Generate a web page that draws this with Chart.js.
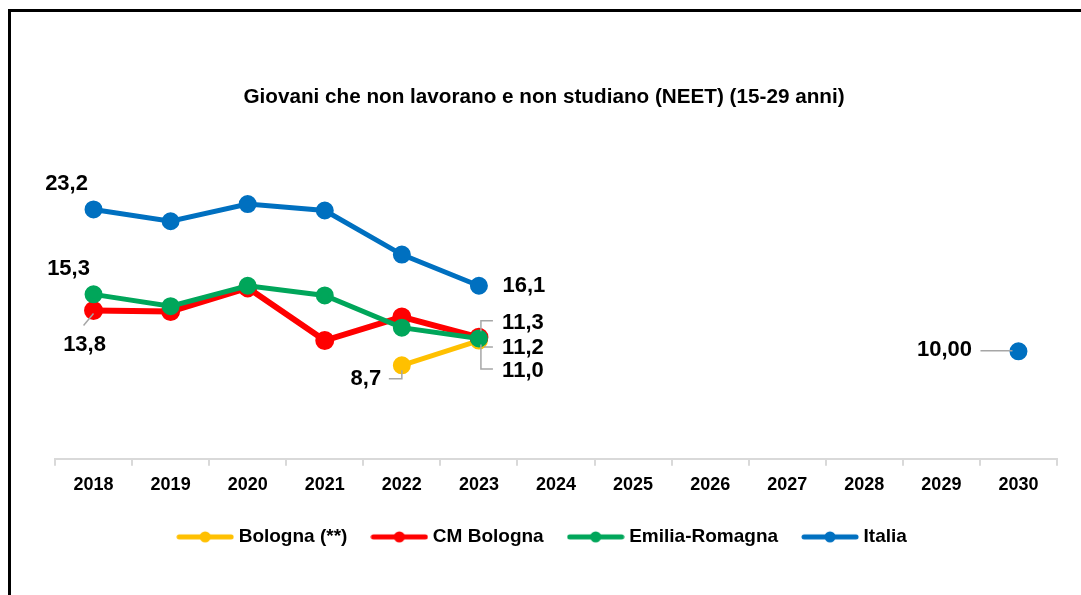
<!DOCTYPE html>
<html lang="it">
<head>
    <title>NEET 15-29 anni</title>
    <script src="https://cdn.jsdelivr.net/npm/chart.js"></script>
    <style>
        body { margin: 0; background: #fff; }
        #wrap { position: relative; width: 1081px; height: 595px; }
        #frame {
            position: absolute; left: 8px; top: 9px; right: -10px; bottom: -10px;
            border-left: 3px solid #000; border-top: 3px solid #000;
            pointer-events: none;
        }
    </style>
</head>
<body>
<div id="wrap">
    <canvas id="myChart" width="1081" height="595"></canvas>
    <div id="frame"></div>
</div>
<script>
    const years = ['2018', '2019', '2020', '2021', '2022', '2023', '2024', '2025', '2026', '2027', '2028', '2029', '2030'];
    const bologna = [null, null, null, null, 8.7, 11.0];
    const cmBologna = [13.8, 13.7, 15.9, 11.0, 13.2, 11.3];
    const emiliaRomagna = [15.3, 14.2, 16.1, 15.2, 12.2, 11.2];
    const italia = [23.2, 22.1, 23.7, 23.1, 19.0, 16.1];
    const target2030 = [null, null, null, null, null, null, null, null, null, null, null, null, 10.0];

    const FONT = "'Liberation Sans', Arial, sans-serif";
    const LEADER = '#a6a6a6';

    // value labels: dataset index, point index, text offset, leader path (all relative to the point)
    const labelSpecs = [
        {ds: 3, i: 0, dx: -27, dy: -25},
        {ds: 2, i: 0, dx: -25, dy: -25},
        {ds: 1, i: 0, dx: -9, dy: 34, leader: [[-10, 15], [0, 3]]},
        {ds: 3, i: 5, dx: 45, dy: 0},
        {ds: 1, i: 5, dx: 44, dy: -14, leader: [[14, -16.5], [2, -16.5], [2, -6]]},
        {ds: 2, i: 5, dx: 44, dy: 10, leader: [[14, 8.6], [5, 8.6]]},
        {ds: 0, i: 5, dx: 44, dy: 30, leader: [[2, 4], [2, 28.4], [14, 28.4]]},
        {ds: 0, i: 4, dx: -36, dy: 14, leader: [[-13, 13.5], [0, 13.5], [0, 5]]},
        {ds: 4, i: 12, dx: -74, dy: -1, digits: 2, leader: [[-38, -0.5], [-6, -0.5]]},
    ];

    function legendIcon(color) {
        const c = document.createElement('canvas');
        c.width = 58;
        c.height = 14;
        const g = c.getContext('2d');
        g.strokeStyle = color;
        g.lineWidth = 5;
        g.lineCap = 'round';
        g.beginPath();
        g.moveTo(3, 7);
        g.lineTo(55, 7);
        g.stroke();
        g.fillStyle = color;
        g.beginPath();
        g.arc(29, 7, 5.5, 0, Math.PI * 2);
        g.fill();
        return c;
    }

    const valueLabels = {
        id: 'valueLabels',
        afterDatasetsDraw(chart) {
            const ctx = chart.ctx;
            ctx.save();
            labelSpecs.forEach(s => {
                const el = chart.getDatasetMeta(s.ds).data[s.i];
                const v = chart.data.datasets[s.ds].data[s.i];
                if (!el || v === null) return;
                if (s.leader) {
                    ctx.strokeStyle = LEADER;
                    ctx.lineWidth = 1.5;
                    ctx.beginPath();
                    s.leader.forEach((p, k) => {
                        if (k === 0) ctx.moveTo(el.x + p[0], el.y + p[1]);
                        else ctx.lineTo(el.x + p[0], el.y + p[1]);
                    });
                    ctx.stroke();
                }
                ctx.fillStyle = '#000';
                ctx.font = 'bold 22px ' + FONT;
                ctx.textAlign = 'center';
                ctx.textBaseline = 'middle';
                ctx.fillText(v.toFixed(s.digits || 1).replace('.', ','), el.x + s.dx, el.y + s.dy);
            });
            ctx.restore();
        }
    };

    function series(label, data, color, order, width) {
        return {
            label: label,
            data: data,
            borderColor: color,
            backgroundColor: color,
            pointBackgroundColor: color,
            pointBorderColor: color,
            borderWidth: width || 5,
            pointRadius: 6.5,
            pointHoverRadius: 6.5,
            tension: 0,
            order: order,
            legendIcon: legendIcon(color),
        };
    }

    const ctx = document.getElementById('myChart').getContext('2d');
    const chart = new Chart(ctx, {
        type: 'line',
        data: {
            labels: years,
            datasets: [
                series('Bologna (**)', bologna, '#ffc000', 2),
                series('CM Bologna', cmBologna, '#ff0000', 1, 6),
                series('Emilia-Romagna', emiliaRomagna, '#00a65a', 0),
                series('Italia', italia, '#0070c0', 3),
                Object.assign(series('Obiettivo 2030', target2030, '#0070c0', 4), {showLine: false}),
            ],
        },
        options: {
            responsive: false,
            devicePixelRatio: 1,
            animation: false,
            spanGaps: false,
            layout: {padding: {top: 0, left: 31, right: 24, bottom: 38.6}},
            plugins: {
                title: {
                    display: true,
                    text: 'Giovani che non lavorano e non studiano (NEET) (15-29 anni)',
                    color: '#000',
                    font: {family: FONT, size: 20.7, weight: 'bold', lineHeight: 1.2},
                    padding: {top: 85, bottom: 48},
                },
                legend: {
                    position: 'bottom',
                    labels: {
                        usePointStyle: true,
                        pointStyleWidth: 48,
                        padding: 28,
                        color: '#000',
                        font: {family: FONT, size: 19, weight: 'bold'},
                        filter: item => item.datasetIndex < 4,
                        sort: (a, b) => a.datasetIndex - b.datasetIndex,
                        generateLabels(chart) {
                            const items = Chart.defaults.plugins.legend.labels.generateLabels(chart);
                            items.forEach(it => {
                                it.pointStyle = chart.data.datasets[it.datasetIndex].legendIcon;
                            });
                            return items;
                        },
                    },
                },
                tooltip: {enabled: false},
            },
            scales: {
                x: {
                    offset: true,
                    grid: {
                        offset: true,
                        drawOnChartArea: false,
                        tickLength: 7,
                        color: '#d9d9d9',
                        lineWidth: 2,
                    },
                    border: {color: '#d9d9d9', width: 2},
                    ticks: {
                        color: '#000',
                        padding: 8.5,
                        font: {family: FONT, size: 18, weight: 'bold'},
                    },
                    afterFit(scale) {
                        scale.height -= 5;
                    },
                },
                y: {
                    min: 0,
                    max: 28,
                    grid: {display: false},
                    border: {display: false},
                    ticks: {display: false},
                    afterFit(scale) {
                        scale.width = 24;
                    },
                },
            },
        },
        plugins: [valueLabels],
    });
</script>
</body>
</html>
